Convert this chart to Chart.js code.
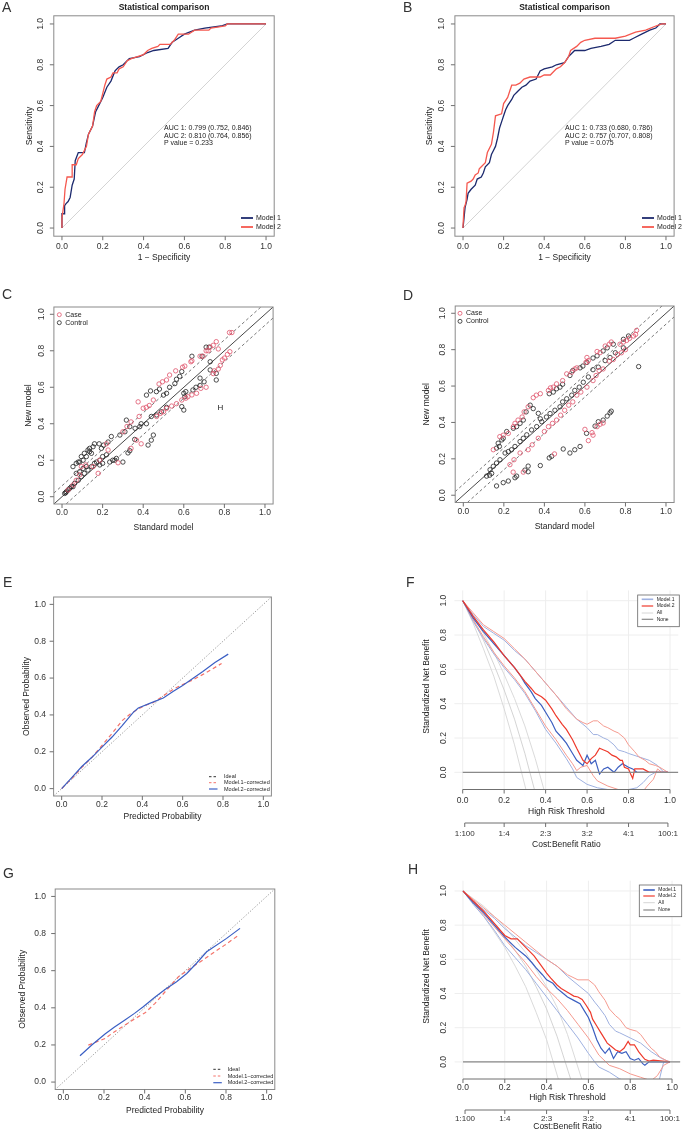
<!DOCTYPE html>
<html lang="en">
<head>
<meta charset="UTF-8">
<title>Model comparison panels</title>
<script src="https://cdn.jsdelivr.net/npm/chart.js"></script>
<style>
  body { margin: 0; background: #fff; }
  #wrap { position: relative; width: 683px; height: 1131px; overflow: hidden; }
  #wrap canvas { position: absolute; left: 0; top: 0; }
</style>
</head>
<body>
<div id="wrap"></div>
<script>
// ---------- data ----------
const tickVals = [0, 0.2, 0.4, 0.6, 0.8, 1.0];
const tickText = ['0.0', '0.2', '0.4', '0.6', '0.8', '1.0'];
const costVals = [0.0099, 0.2, 0.4, 0.6, 0.8, 0.99];
const costText = ['1:100', '1:4', '2:3', '3:2', '4:1', '100:1'];

const aucTextA = ['AUC 1: 0.799 (0.752, 0.846)', 'AUC 2: 0.810 (0.764, 0.856)', 'P value = 0.233'];
const aucTextB = ['AUC 1: 0.733 (0.680, 0.786)', 'AUC 2: 0.757 (0.707, 0.808)', 'P value = 0.075'];

// ROC curves [1 - specificity, sensitivity]
const rocA1 = [[0,0],[0,0.07],[0.013,0.07],[0.013,0.11],[0.02,0.12],[0.03,0.13],[0.04,0.15],[0.05,0.21],[0.06,0.24],[0.065,0.33],[0.08,0.37],[0.11,0.37],[0.12,0.42],[0.13,0.46],[0.15,0.50],[0.165,0.57],[0.18,0.60],[0.20,0.64],[0.22,0.69],[0.24,0.72],[0.26,0.77],[0.28,0.79],[0.30,0.80],[0.33,0.83],[0.38,0.84],[0.42,0.86],[0.45,0.87],[0.52,0.88],[0.54,0.91],[0.57,0.93],[0.60,0.95],[0.65,0.97],[0.70,0.98],[0.78,0.99],[0.81,1.0],[1,1]];
const rocA2 = [[0,0],[0,0.05],[0.01,0.12],[0.015,0.19],[0.02,0.22],[0.025,0.25],[0.05,0.25],[0.05,0.31],[0.07,0.31],[0.08,0.34],[0.10,0.36],[0.12,0.40],[0.13,0.46],[0.15,0.50],[0.16,0.57],[0.17,0.60],[0.19,0.62],[0.20,0.66],[0.21,0.70],[0.22,0.73],[0.24,0.74],[0.25,0.76],[0.27,0.76],[0.28,0.78],[0.30,0.79],[0.32,0.82],[0.34,0.83],[0.37,0.84],[0.40,0.85],[0.42,0.87],[0.44,0.88],[0.47,0.89],[0.48,0.90],[0.53,0.90],[0.55,0.92],[0.57,0.95],[0.62,0.95],[0.65,0.97],[0.72,0.97],[0.73,0.98],[0.80,0.99],[0.81,1.0],[1,1]];
const rocB1 = [[0,0],[0.005,0.05],[0.01,0.10],[0.02,0.14],[0.025,0.17],[0.04,0.19],[0.06,0.21],[0.07,0.24],[0.09,0.25],[0.10,0.27],[0.11,0.30],[0.13,0.32],[0.14,0.36],[0.15,0.38],[0.16,0.40],[0.17,0.44],[0.18,0.49],[0.19,0.52],[0.20,0.55],[0.21,0.58],[0.22,0.60],[0.24,0.63],[0.25,0.65],[0.27,0.67],[0.29,0.69],[0.31,0.70],[0.33,0.72],[0.36,0.73],[0.38,0.77],[0.40,0.78],[0.44,0.79],[0.46,0.80],[0.50,0.81],[0.52,0.84],[0.53,0.85],[0.55,0.87],[0.60,0.87],[0.63,0.88],[0.68,0.89],[0.72,0.90],[0.75,0.92],[0.82,0.92],[0.84,0.93],[0.88,0.95],[0.92,0.97],[0.95,0.98],[0.97,1.0],[1,1]];
const rocB2 = [[0,0],[0,0.01],[0.005,0.10],[0.01,0.11],[0.015,0.13],[0.02,0.22],[0.04,0.23],[0.05,0.24],[0.06,0.26],[0.075,0.27],[0.08,0.29],[0.09,0.30],[0.11,0.32],[0.12,0.37],[0.14,0.41],[0.15,0.47],[0.16,0.55],[0.19,0.56],[0.20,0.61],[0.22,0.64],[0.23,0.67],[0.24,0.70],[0.26,0.70],[0.28,0.71],[0.30,0.73],[0.33,0.74],[0.38,0.74],[0.40,0.75],[0.43,0.75],[0.46,0.78],[0.48,0.79],[0.50,0.81],[0.52,0.84],[0.53,0.87],[0.56,0.89],[0.58,0.91],[0.60,0.92],[0.65,0.93],[0.75,0.93],[0.80,0.94],[0.85,0.96],[0.90,0.97],[0.95,0.99],[0.98,1.0],[1,1]];

// reclassification scatter [standard model, new model]
const caseC = [[0.825,0.90],[0.837,0.90],[0.76,0.85],[0.77,0.81],[0.745,0.83],[0.73,0.82],[0.72,0.80],[0.71,0.80],[0.695,0.77],[0.68,0.77],[0.635,0.74],[0.64,0.745],[0.827,0.795],[0.815,0.78],[0.80,0.76],[0.79,0.75],[0.78,0.72],[0.77,0.70],[0.75,0.69],[0.745,0.675],[0.605,0.716],[0.594,0.71],[0.56,0.69],[0.53,0.667],[0.515,0.64],[0.495,0.63],[0.478,0.618],[0.71,0.60],[0.684,0.594],[0.663,0.567],[0.64,0.558],[0.62,0.548],[0.61,0.54],[0.59,0.53],[0.564,0.51],[0.54,0.497],[0.515,0.484],[0.50,0.466],[0.485,0.457],[0.466,0.44],[0.45,0.53],[0.43,0.50],[0.415,0.49],[0.40,0.485],[0.375,0.52],[0.38,0.44],[0.34,0.41],[0.32,0.385],[0.30,0.356],[0.367,0.31],[0.39,0.29],[0.34,0.265],[0.276,0.186],[0.227,0.256],[0.219,0.29],[0.186,0.2],[0.153,0.165],[0.178,0.128],[0.117,0.174],[0.095,0.165],[0.087,0.12],[0.07,0.09],[0.054,0.064],[0.03,0.037]];
const controlC = [[0.71,0.82],[0.725,0.82],[0.69,0.77],[0.64,0.77],[0.73,0.74],[0.76,0.676],[0.73,0.695],[0.68,0.65],[0.70,0.63],[0.76,0.64],[0.68,0.61],[0.66,0.60],[0.645,0.585],[0.61,0.576],[0.59,0.686],[0.58,0.66],[0.564,0.644],[0.556,0.62],[0.53,0.60],[0.48,0.59],[0.465,0.576],[0.50,0.557],[0.515,0.567],[0.60,0.567],[0.605,0.548],[0.59,0.494],[0.60,0.475],[0.436,0.58],[0.416,0.557],[0.515,0.49],[0.49,0.466],[0.466,0.448],[0.44,0.44],[0.416,0.40],[0.39,0.40],[0.383,0.384],[0.36,0.375],[0.317,0.42],[0.334,0.384],[0.31,0.356],[0.285,0.338],[0.45,0.338],[0.44,0.31],[0.424,0.283],[0.358,0.314],[0.334,0.252],[0.325,0.24],[0.30,0.19],[0.26,0.2],[0.243,0.33],[0.227,0.30],[0.205,0.283],[0.194,0.265],[0.183,0.29],[0.219,0.23],[0.2,0.22],[0.186,0.2],[0.17,0.19],[0.16,0.183],[0.136,0.247],[0.145,0.238],[0.12,0.22],[0.104,0.2],[0.087,0.19],[0.07,0.183],[0.054,0.165],[0.16,0.29],[0.153,0.274],[0.136,0.265],[0.128,0.256],[0.11,0.238],[0.095,0.22],[0.08,0.19],[0.145,0.165],[0.128,0.146],[0.11,0.128],[0.095,0.11],[0.08,0.09],[0.062,0.073],[0.046,0.055],[0.03,0.037],[0.018,0.022],[0.013,0.018],[0.021,0.027],[0.038,0.046],[0.054,0.055],[0.07,0.128],[0.087,0.137],[0.104,0.155],[0.12,0.165],[0.186,0.174],[0.2,0.183],[0.235,0.19],[0.25,0.2],[0.268,0.21]];
const caseD = [[0.855,0.906],[0.85,0.884],[0.84,0.875],[0.82,0.862],[0.806,0.851],[0.79,0.842],[0.773,0.83],[0.73,0.842],[0.72,0.83],[0.70,0.82],[0.675,0.784],[0.66,0.79],[0.617,0.74],[0.61,0.757],[0.605,0.73],[0.56,0.70],[0.55,0.694],[0.535,0.676],[0.51,0.667],[0.49,0.63],[0.46,0.612],[0.444,0.594],[0.43,0.59],[0.42,0.576],[0.38,0.558],[0.36,0.55],[0.345,0.536],[0.32,0.486],[0.30,0.458],[0.29,0.43],[0.27,0.413],[0.255,0.395],[0.247,0.377],[0.222,0.34],[0.197,0.33],[0.18,0.322],[0.148,0.25],[0.80,0.80],[0.78,0.783],[0.76,0.774],[0.74,0.746],[0.72,0.737],[0.69,0.694],[0.67,0.685],[0.655,0.658],[0.64,0.63],[0.61,0.594],[0.58,0.567],[0.56,0.55],[0.54,0.513],[0.52,0.495],[0.50,0.467],[0.48,0.44],[0.46,0.413],[0.44,0.395],[0.42,0.377],[0.40,0.35],[0.37,0.313],[0.34,0.277],[0.32,0.25],[0.28,0.232],[0.25,0.195],[0.23,0.168],[0.60,0.362],[0.635,0.344],[0.64,0.33],[0.66,0.377],[0.675,0.39],[0.69,0.397],[0.617,0.30],[0.246,0.127],[0.296,0.127],[0.45,0.227]];
const controlD = [[0.865,0.707],[0.815,0.875],[0.79,0.857],[0.74,0.83],[0.71,0.81],[0.69,0.793],[0.66,0.766],[0.64,0.754],[0.61,0.73],[0.59,0.71],[0.576,0.70],[0.54,0.685],[0.526,0.658],[0.49,0.61],[0.477,0.594],[0.46,0.585],[0.444,0.567],[0.424,0.558],[0.79,0.81],[0.75,0.783],[0.724,0.757],[0.70,0.74],[0.666,0.704],[0.64,0.69],[0.617,0.65],[0.592,0.621],[0.572,0.594],[0.55,0.576],[0.535,0.55],[0.51,0.53],[0.49,0.513],[0.477,0.486],[0.452,0.467],[0.428,0.449],[0.41,0.43],[0.387,0.404],[0.362,0.377],[0.337,0.359],[0.313,0.332],[0.296,0.313],[0.28,0.295],[0.255,0.268],[0.238,0.25],[0.222,0.24],[0.206,0.232],[0.181,0.195],[0.164,0.177],[0.148,0.159],[0.132,0.14],[0.115,0.105],[0.13,0.11],[0.14,0.12],[0.38,0.42],[0.37,0.45],[0.345,0.476],[0.33,0.495],[0.31,0.458],[0.296,0.413],[0.28,0.395],[0.263,0.377],[0.247,0.368],[0.214,0.35],[0.197,0.313],[0.19,0.304],[0.178,0.268],[0.164,0.259],[0.172,0.286],[0.73,0.462],[0.724,0.453],[0.71,0.435],[0.69,0.413],[0.666,0.404],[0.65,0.38],[0.608,0.34],[0.576,0.268],[0.55,0.25],[0.526,0.232],[0.493,0.254],[0.424,0.205],[0.436,0.214],[0.38,0.163],[0.32,0.129],[0.304,0.138],[0.263,0.105],[0.255,0.096],[0.222,0.078],[0.197,0.069],[0.164,0.051],[0.32,0.16]];
const refDiag = [[-0.04,-0.04],[1.04,1.04]];
const refUpper = [[-0.04,0.02],[1.04,1.10]];
const refLower = [[-0.04,-0.10],[1.04,0.98]];
const rocDiag = [[0,0],[1,1]];

// calibration curves [predicted, observed]
const calE1 = [[0,0],[0.05,0.055],[0.1,0.115],[0.15,0.17],[0.2,0.234],[0.25,0.30],[0.3,0.369],[0.34,0.405],[0.372,0.427],[0.41,0.45],[0.455,0.468],[0.5,0.50],[0.554,0.54],[0.6,0.565],[0.65,0.59],[0.694,0.616],[0.74,0.645],[0.793,0.679]];
const calE2 = [[0,0],[0.05,0.06],[0.1,0.12],[0.15,0.17],[0.2,0.225],[0.25,0.28],[0.3,0.342],[0.355,0.414],[0.38,0.438],[0.446,0.467],[0.504,0.492],[0.554,0.528],[0.6,0.56],[0.65,0.598],[0.7,0.636],[0.76,0.685],[0.826,0.73]];
const calG1 = [[0.123,0.199],[0.16,0.215],[0.205,0.235],[0.25,0.27],[0.303,0.307],[0.35,0.34],[0.402,0.373],[0.451,0.424],[0.508,0.496],[0.566,0.567],[0.623,0.612],[0.67,0.645],[0.721,0.684],[0.79,0.735],[0.856,0.786]];
const calG2 = [[0.082,0.142],[0.14,0.2],[0.205,0.259],[0.25,0.295],[0.303,0.334],[0.35,0.37],[0.393,0.406],[0.45,0.457],[0.5,0.499],[0.557,0.54],[0.607,0.585],[0.655,0.64],[0.705,0.702],[0.803,0.774],[0.869,0.828]];

// decision curves [threshold, standardized net benefit]
const dcaF1 = [[0,1],[0.05,0.9],[0.1,0.82],[0.15,0.75],[0.2,0.68],[0.25,0.61],[0.28,0.56],[0.3,0.52],[0.33,0.47],[0.35,0.43],[0.38,0.39],[0.4,0.35],[0.43,0.29],[0.45,0.24],[0.48,0.20],[0.5,0.17],[0.53,0.11],[0.55,0.07],[0.58,0.04],[0.6,0.10],[0.62,0.05],[0.64,0.07],[0.66,-0.01],[0.68,0.02],[0.7,0.03],[0.73,0.0],[0.75,0.03],[0.77,0.05],[0.8,0.03],[0.82,0.02],[0.84,0.0],[0.99,0.0]];
const dcaF2 = [[0,1],[0.05,0.91],[0.1,0.83],[0.15,0.76],[0.2,0.68],[0.25,0.61],[0.3,0.53],[0.33,0.49],[0.35,0.46],[0.38,0.44],[0.4,0.42],[0.43,0.37],[0.45,0.33],[0.48,0.28],[0.5,0.25],[0.53,0.19],[0.55,0.14],[0.58,0.07],[0.6,0.05],[0.62,0.08],[0.64,0.10],[0.66,0.14],[0.68,0.13],[0.7,0.12],[0.72,0.10],[0.74,0.09],[0.76,0.07],[0.77,0.07],[0.78,0.03],[0.8,0.02],[0.81,-0.01],[0.82,-0.035],[0.83,0.02],[0.87,0.02],[0.9,0.0],[0.99,0.0]];
const dcaF1hi = [[0,1],[0.05,0.92],[0.1,0.85],[0.15,0.81],[0.2,0.77],[0.25,0.71],[0.3,0.66],[0.35,0.59],[0.4,0.52],[0.45,0.45],[0.5,0.38],[0.55,0.31],[0.6,0.26],[0.63,0.22],[0.65,0.22],[0.68,0.20],[0.7,0.19],[0.73,0.16],[0.75,0.13],[0.78,0.12],[0.8,0.11],[0.85,0.09],[0.9,0.07],[0.94,0.04],[0.97,0.0],[0.99,0.0]];
const dcaF2hi = [[0,1],[0.05,0.93],[0.1,0.86],[0.15,0.82],[0.2,0.78],[0.25,0.72],[0.3,0.66],[0.35,0.59],[0.4,0.52],[0.45,0.45],[0.5,0.37],[0.55,0.31],[0.58,0.29],[0.6,0.28],[0.63,0.30],[0.65,0.30],[0.68,0.27],[0.7,0.26],[0.73,0.24],[0.75,0.23],[0.78,0.20],[0.8,0.16],[0.83,0.12],[0.85,0.09],[0.88,0.07],[0.9,0.05],[0.93,0.04],[0.95,0.03],[0.99,0.0]];
const dcaF1lo = [[0,1],[0.05,0.88],[0.1,0.78],[0.15,0.69],[0.2,0.61],[0.25,0.54],[0.3,0.46],[0.35,0.36],[0.4,0.25],[0.45,0.17],[0.5,0.08],[0.53,0.02],[0.55,-0.03],[0.6,-0.07],[0.65,-0.09],[0.7,-0.1],[0.75,-0.11],[0.8,-0.1],[0.84,-0.09],[0.87,-0.06],[0.9,-0.02],[0.93,0.0],[0.99,0.0]];
const dcaF2lo = [[0,1],[0.05,0.89],[0.1,0.79],[0.15,0.70],[0.2,0.62],[0.25,0.55],[0.3,0.47],[0.35,0.37],[0.4,0.27],[0.45,0.19],[0.5,0.10],[0.53,0.05],[0.55,0.01],[0.57,0.03],[0.6,0.04],[0.63,-0.02],[0.65,-0.05],[0.7,-0.08],[0.75,-0.1],[0.8,-0.12],[0.87,-0.11],[0.89,-0.08],[0.92,-0.04],[0.94,0.02],[0.96,0.0],[0.99,0.0]];
const allF = [
  [[0,1],[0.05,0.87],[0.1,0.72],[0.15,0.56],[0.2,0.37],[0.25,0.16],[0.305,-0.1]],
  [[0,1],[0.05,0.89],[0.1,0.77],[0.15,0.63],[0.2,0.48],[0.25,0.31],[0.3,0.11],[0.346,-0.1]],
  [[0,1],[0.05,0.91],[0.1,0.81],[0.15,0.70],[0.2,0.57],[0.25,0.43],[0.3,0.27],[0.35,0.08],[0.392,-0.1]]
];
const dcaH1 = [[0,1],[0.05,0.93],[0.1,0.87],[0.15,0.80],[0.2,0.73],[0.25,0.67],[0.3,0.62],[0.33,0.58],[0.35,0.55],[0.38,0.51],[0.4,0.48],[0.43,0.46],[0.45,0.43],[0.48,0.40],[0.5,0.38],[0.53,0.36],[0.56,0.34],[0.58,0.30],[0.6,0.26],[0.62,0.2],[0.64,0.13],[0.66,0.08],[0.68,0.05],[0.7,0.08],[0.72,0.02],[0.74,0.06],[0.76,0.05],[0.78,0.06],[0.8,0.02],[0.82,0.01],[0.84,0.02],[0.86,-0.01],[0.87,-0.02],[0.89,0.0],[0.99,0.0]];
const dcaH2 = [[0,1],[0.05,0.94],[0.1,0.88],[0.15,0.81],[0.2,0.74],[0.23,0.72],[0.26,0.72],[0.3,0.67],[0.34,0.62],[0.37,0.57],[0.4,0.52],[0.42,0.49],[0.45,0.45],[0.47,0.43],[0.49,0.415],[0.51,0.40],[0.53,0.385],[0.55,0.38],[0.57,0.365],[0.59,0.33],[0.61,0.29],[0.62,0.25],[0.64,0.21],[0.66,0.17],[0.68,0.13],[0.69,0.11],[0.71,0.09],[0.73,0.07],[0.75,0.06],[0.77,0.08],[0.79,0.12],[0.8,0.10],[0.82,0.10],[0.84,0.06],[0.86,0.03],[0.87,0.015],[0.89,0.005],[0.91,0.01],[0.99,0.0]];
const dcaH1hi = [[0,1],[0.05,0.94],[0.1,0.89],[0.15,0.84],[0.2,0.78],[0.25,0.73],[0.3,0.68],[0.35,0.64],[0.4,0.60],[0.45,0.56],[0.5,0.50],[0.55,0.45],[0.6,0.40],[0.63,0.35],[0.65,0.32],[0.68,0.27],[0.7,0.22],[0.73,0.18],[0.75,0.17],[0.8,0.14],[0.85,0.11],[0.88,0.08],[0.9,0.06],[0.95,0.02],[0.99,0.0]];
const dcaH2hi = [[0,1],[0.05,0.95],[0.1,0.9],[0.15,0.85],[0.2,0.80],[0.25,0.75],[0.3,0.70],[0.35,0.65],[0.4,0.60],[0.45,0.56],[0.5,0.51],[0.55,0.48],[0.6,0.48],[0.63,0.45],[0.65,0.41],[0.68,0.36],[0.7,0.31],[0.73,0.27],[0.75,0.25],[0.78,0.20],[0.8,0.19],[0.83,0.18],[0.85,0.16],[0.88,0.11],[0.9,0.08],[0.92,0.06],[0.94,0.03],[0.97,0.01],[0.99,0.0]];
const dcaH1lo = [[0,1],[0.05,0.92],[0.1,0.85],[0.15,0.77],[0.2,0.68],[0.25,0.61],[0.3,0.54],[0.35,0.46],[0.4,0.38],[0.45,0.30],[0.5,0.22],[0.55,0.14],[0.6,0.05],[0.63,0.0],[0.65,-0.03],[0.7,-0.06],[0.75,-0.1],[0.8,-0.12],[0.9,-0.13],[0.94,-0.1],[0.96,0.0],[0.99,0.0]];
const dcaH2lo = [[0,1],[0.05,0.93],[0.1,0.86],[0.15,0.79],[0.2,0.72],[0.25,0.65],[0.3,0.58],[0.35,0.50],[0.4,0.43],[0.45,0.37],[0.5,0.30],[0.55,0.22],[0.6,0.14],[0.63,0.08],[0.65,0.04],[0.7,-0.02],[0.75,-0.04],[0.8,-0.07],[0.85,-0.09],[0.9,-0.11],[0.93,-0.08],[0.96,-0.02],[0.99,0.0]];
const allH = [
  [[0,1],[0.1,0.85],[0.2,0.67],[0.25,0.56],[0.3,0.44],[0.35,0.29],[0.4,0.13],[0.456,-0.1]],
  [[0,1],[0.1,0.88],[0.2,0.74],[0.3,0.56],[0.35,0.44],[0.4,0.31],[0.45,0.15],[0.515,-0.1]],
  [[0,1],[0.1,0.91],[0.2,0.79],[0.3,0.64],[0.4,0.44],[0.45,0.32],[0.5,0.16],[0.568,-0.1]]
];
const noneLine = [[0,0],[1.04,0]];

// ---------- drawing helpers ----------
const W = 683, H = 1131;
const FONT = '"Liberation Sans", Arial, Helvetica, sans-serif';
const NAVY = '#1d2a6e', SALMON = '#f5584f', PINK = '#df536b';
const TICK = 8.5, LAB = 8.5;
const pts = arr => arr.map(p => ({ x: p[0], y: p[1] }));

const lineSet = (data, color, width, dash) => ({
  data: pts(data), showLine: true, borderColor: color, borderWidth: width,
  borderDash: dash || [], pointRadius: 0, fill: false, tension: 0
});
const dotSet = (data, color) => ({
  data: pts(data), showLine: false, pointStyle: 'circle', pointRadius: 2.2,
  borderColor: color, backgroundColor: 'rgba(0,0,0,0)', borderWidth: 0.8
});

function text(ctx, s, x, y, size, o) {
  o = o || {};
  ctx.save();
  ctx.font = (o.bold ? 'bold ' : '') + size + 'px ' + FONT;
  ctx.fillStyle = o.color || '#222';
  ctx.textAlign = o.align || 'center';
  ctx.textBaseline = 'middle';
  ctx.translate(x, y);
  if (o.rot) ctx.rotate(-Math.PI / 2);
  ctx.fillText(s, 0, 0);
  ctx.restore();
}
function seg(ctx, x1, y1, x2, y2, color, width, dash) {
  ctx.save();
  ctx.strokeStyle = color; ctx.lineWidth = width || 1;
  ctx.setLineDash(dash || []);
  ctx.beginPath(); ctx.moveTo(x1, y1); ctx.lineTo(x2, y2); ctx.stroke();
  ctx.restore();
}

function drawLegend(ctx, lg) {
  if (lg.box) {
    ctx.save();
    ctx.fillStyle = '#fff'; ctx.strokeStyle = '#666'; ctx.lineWidth = 0.8;
    const b = lg.box;
    ctx.fillRect(b[0], b[1], b[2] - b[0], b[3] - b[1]);
    ctx.strokeRect(b[0], b[1], b[2] - b[0], b[3] - b[1]);
    ctx.restore();
  }
  lg.items.forEach((it, i) => {
    const y = lg.ys[i];
    if (it.circle) {
      ctx.save();
      ctx.strokeStyle = it.color; ctx.lineWidth = 0.8;
      ctx.beginPath(); ctx.arc(lg.x1, y, 2, 0, Math.PI * 2); ctx.stroke();
      ctx.restore();
    } else {
      seg(ctx, lg.x1, y, lg.x2, y, it.color, it.width, it.dash);
    }
    text(ctx, it.label, lg.tx, y, lg.size, { align: 'left' });
  });
}

function decorate(chart, c) {
  const ctx = chart.ctx, ar = chart.chartArea;
  const px = v => chart.scales.x.getPixelForValue(v);
  const py = v => chart.scales.y.getPixelForValue(v);
  const midX = (ar.left + ar.right) / 2, midY = (ar.top + ar.bottom) / 2;
  const axisCol = '#6f6f6f';

  if (c.box) {
    ctx.save();
    ctx.strokeStyle = '#8a8a8a'; ctx.lineWidth = 1;
    ctx.strokeRect(ar.left, ar.top, ar.right - ar.left, ar.bottom - ar.top);
    ctx.restore();
    tickVals.forEach((v, i) => {
      seg(ctx, px(v), ar.bottom, px(v), ar.bottom + 4, axisCol, 1);
      text(ctx, tickText[i], px(v), c.xLabY, TICK, { color: '#333' });
      seg(ctx, ar.left, py(v), ar.left - 4, py(v), axisCol, 1);
      text(ctx, tickText[i], c.yLabX, py(v), TICK, { color: '#333', rot: c.yRot, align: c.yRot ? 'center' : 'right' });
    });
  } else {
    // decision curve axes
    seg(ctx, px(0), ar.bottom, px(1), ar.bottom, axisCol, 1);
    tickVals.forEach((v, i) => {
      seg(ctx, px(v), ar.bottom, px(v), ar.bottom + 4, axisCol, 1);
      text(ctx, tickText[i], px(v), c.xLabY, TICK, { color: '#333' });
      text(ctx, tickText[i], c.yLabX, py(v), TICK, { color: '#333', rot: true });
    });
    seg(ctx, px(costVals[0]), c.cbY, px(costVals[5]), c.cbY, axisCol, 1);
    costVals.forEach((v, i) => {
      seg(ctx, px(v), c.cbY, px(v), c.cbY + 4, axisCol, 1);
      text(ctx, costText[i], px(v), c.cbLabY, 8, { color: '#333' });
    });
    text(ctx, 'Cost:Benefit Ratio', midX, c.cbTitleY, LAB);
  }
  text(ctx, c.xTitle, midX, c.xTitleY, LAB);
  text(ctx, c.yTitle, c.yTitleX, c.box ? midY : (py(0) + py(1)) / 2, LAB, { rot: true });
  text(ctx, c.letter[0], c.letter[1], c.letter[2], 14, { align: 'left', color: '#333' });
  if (c.title) text(ctx, c.title, midX, 8, 8.5, { bold: true });
  if (c.notes) c.notes.lines.forEach((s, i) => text(ctx, s, px(c.notes.x), py(c.notes.ys[i]), 7, { align: 'left' }));
  if (c.mark) text(ctx, c.mark[0], px(c.mark[1]), py(c.mark[2]), 8);
  if (c.legend) drawLegend(ctx, c.legend);
}

function drawGrid(chart) {
  const ctx = chart.ctx, ar = chart.chartArea;
  const px = v => chart.scales.x.getPixelForValue(v);
  const py = v => chart.scales.y.getPixelForValue(v);
  tickVals.forEach(v => {
    seg(ctx, px(v), ar.top, px(v), ar.bottom, '#eeeeee', 1);
    seg(ctx, ar.left, py(v), ar.right, py(v), '#eeeeee', 1);
  });
}

function panel(area, yr, datasets, deco) {
  const cv = document.createElement('canvas');
  cv.width = W; cv.height = H;
  document.getElementById('wrap').appendChild(cv);
  return new Chart(cv.getContext('2d'), {
    type: 'scatter',
    data: { datasets: datasets },
    options: {
      responsive: false, animation: false, devicePixelRatio: 1,
      layout: { padding: { left: area[0], top: area[1], right: W - area[2], bottom: H - area[3] } },
      scales: {
        x: { type: 'linear', display: false, min: -0.04, max: 1.04 },
        y: { type: 'linear', display: false, min: yr[0], max: yr[1] }
      },
      plugins: { legend: { display: false }, tooltip: { enabled: false } }
    },
    plugins: [{
      id: 'deco',
      beforeDatasetsDraw(chart) { if (deco.grid) drawGrid(chart); },
      afterDatasetsDraw(chart) { decorate(chart, deco); }
    }]
  });
}

const RY = [-0.04, 1.04];
const rocLegend = (x1) => ({ x1: x1, x2: x1 + 12, tx: x1 + 15, ys: [218, 227], size: 7,
  items: [{ label: 'Model 1', color: NAVY, width: 1.8 }, { label: 'Model 2', color: SALMON, width: 1.8 }] });
const ptLegend = (x1, ys) => ({ x1: x1, tx: x1 + 6, ys: ys, size: 7,
  items: [{ label: 'Case', color: PINK, circle: true }, { label: 'Control', color: '#222', circle: true }] });
const calLegend = (x1, tx, ys) => ({ x1: x1, x2: x1 + 8.5, tx: tx, ys: ys, size: 5.5,
  items: [{ label: 'Ideal', color: '#333', width: 1, dash: [2.5, 2] },
          { label: 'Model.1\u2212corrected', color: '#f4736a', width: 1, dash: [2.5, 2] },
          { label: 'Model.2\u2212corrected', color: '#3b5fc4', width: 1.2 }] });
const dcaLegend = (box, x1, ys, m1) => ({ box: box, x1: x1, x2: x1 + 11.5, tx: x1 + 15, ys: ys, size: 5,
  items: [{ label: 'Model.1', color: m1, width: 1.6 }, { label: 'Model.2', color: '#ee3a2c', width: 1.2 },
          { label: 'All', color: '#d6d6d6', width: 1 }, { label: 'None', color: '#888', width: 1.2 }] });

// A
panel([53.8, 15.8, 274.2, 236.2], RY, [
  lineSet(rocA2, SALMON, 1.3), lineSet(rocA1, NAVY, 1.3), lineSet(rocDiag, '#c8c8c8', 0.8)
], { box: true, letter: ['A', 2, 8], title: 'Statistical comparison', xLabY: 247, xTitleY: 258,
  xTitle: '1 \u2212 Specificity', yLabX: 41, yRot: true, yTitleX: 30, yTitle: 'Sensitivity',
  notes: { lines: aucTextA, x: 0.5, ys: [0.492, 0.453, 0.415] }, legend: rocLegend(241) });
// B
panel([454.9, 15.8, 674.1, 236.2], RY, [
  lineSet(rocB2, SALMON, 1.3), lineSet(rocB1, NAVY, 1.3), lineSet(rocDiag, '#c8c8c8', 0.8)
], { box: true, letter: ['B', 403, 8], title: 'Statistical comparison', xLabY: 247, xTitleY: 258,
  xTitle: '1 \u2212 Specificity', yLabX: 442, yRot: true, yTitleX: 430, yTitle: 'Sensitivity',
  notes: { lines: aucTextB, x: 0.502, ys: [0.492, 0.453, 0.415] }, legend: rocLegend(642) });
// C
panel([53.9, 307, 273.1, 504], RY, [
  dotSet(caseC, PINK), dotSet(controlC, '#222'),
  lineSet(refDiag, '#333', 0.9), lineSet(refUpper, '#555', 0.8, [3, 2.5]), lineSet(refLower, '#555', 0.8, [3, 2.5])
], { box: true, letter: ['C', 2, 295], xLabY: 513, xTitleY: 528, xTitle: 'Standard model',
  yLabX: 42, yRot: true, yTitleX: 29, yTitle: 'New model', mark: ['H', 0.78, 0.49],
  legend: ptLegend(59.3, [314.7, 322.7]) });
// D
panel([455.2, 306, 674.1, 502.5], RY, [
  dotSet(caseD, PINK), dotSet(controlD, '#222'),
  lineSet(refDiag, '#333', 0.9), lineSet(refUpper, '#555', 0.8, [3, 2.5]), lineSet(refLower, '#555', 0.8, [3, 2.5])
], { box: true, letter: ['D', 403, 296], xLabY: 512, xTitleY: 527, xTitle: 'Standard model',
  yLabX: 443, yRot: true, yTitleX: 427, yTitle: 'New model',
  legend: ptLegend(460, [313.3, 321.3]) });
// E
panel([53.6, 597, 271.4, 796], RY, [
  lineSet(calE2, '#3b5fc4', 1.2), lineSet(calE1, '#f4736a', 1.2, [4, 3]), lineSet(refDiag, '#8a8a8a', 0.9, [1.2, 1.8])
], { box: true, letter: ['E', 3, 583], xLabY: 805, xTitleY: 817, xTitle: 'Predicted Probability',
  yLabX: 46, yRot: false, yTitleX: 27, yTitle: 'Observed Probability',
  legend: calLegend(209, 224, [776.7, 782.7, 789]) });
// F
panel([454.4, 590.4, 678.3, 789.5], [-0.1, 1.06], [
  lineSet(noneLine, '#8a8a8a', 1.2),
  lineSet(dcaF2, '#ee3a2c', 1.2), lineSet(dcaF1, '#3c5fc0', 1.2),
  lineSet(dcaF2hi, '#f59a8f', 1), lineSet(dcaF2lo, '#f59a8f', 1),
  lineSet(dcaF1hi, '#9fb1e0', 1), lineSet(dcaF1lo, '#9fb1e0', 1),
  lineSet(allF[0], '#d6d6d6', 0.9), lineSet(allF[1], '#cfcfcf', 0.9), lineSet(allF[2], '#d6d6d6', 0.9)
], { grid: true, letter: ['F', 406, 583], xLabY: 801, xTitleY: 812, xTitle: 'High Risk Threshold',
  yLabX: 444, yTitleX: 427, yTitle: 'Standardized Net Benefit', cbY: 823, cbLabY: 834, cbTitleY: 845,
  legend: dcaLegend([637.7, 595, 679.3, 626.7], 641.7, [599.3, 606, 613, 619.3], '#9fb1e0') });
// G
panel([55.2, 889, 274.8, 1089.5], RY, [
  lineSet(calG2, '#3b5fc4', 1.2), lineSet(calG1, '#f4736a', 1.2, [4, 3]), lineSet(refDiag, '#8a8a8a', 0.9, [1.2, 1.8])
], { box: true, letter: ['G', 3, 874], xLabY: 1098, xTitleY: 1111, xTitle: 'Predicted Probability',
  yLabX: 46, yRot: false, yTitleX: 23, yTitle: 'Observed Probability',
  legend: calLegend(213.3, 227.7, [1069.3, 1076, 1082.7]) });
// H
panel([454.6, 880.7, 680.4, 1079], [-0.1, 1.06], [
  lineSet(noneLine, '#8a8a8a', 1.2),
  lineSet(dcaH2, '#ee3a2c', 1.2), lineSet(dcaH1, '#3c5fc0', 1.2),
  lineSet(dcaH2hi, '#f59a8f', 1), lineSet(dcaH2lo, '#f59a8f', 1),
  lineSet(dcaH1hi, '#9fb1e0', 1), lineSet(dcaH1lo, '#9fb1e0', 1),
  lineSet(allH[0], '#d6d6d6', 0.9), lineSet(allH[1], '#cfcfcf', 0.9), lineSet(allH[2], '#d6d6d6', 0.9)
], { grid: true, letter: ['H', 408, 870], xLabY: 1088, xTitleY: 1098, xTitle: 'High Risk Threshold',
  yLabX: 444, yTitleX: 427, yTitle: 'Standardized Net Benefit', cbY: 1110, cbLabY: 1119, cbTitleY: 1127,
  legend: dcaLegend([639.3, 885, 681.7, 916.7], 643.3, [890, 896, 902.7, 910], '#3c5fc0') });
</script>
</body>
</html>
